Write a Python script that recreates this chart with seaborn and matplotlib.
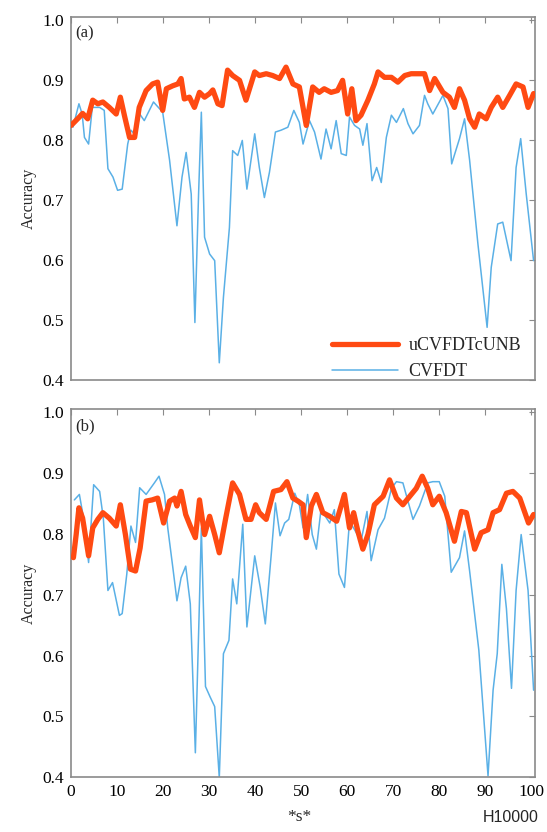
import numpy as np
import pandas as pd
import matplotlib
matplotlib.use('Agg')
import matplotlib.pyplot as plt
import seaborn as sns

# (a) uCVFDTcUNB
a_red_x = [0, 1.8, 2.5, 3.6, 4.7, 5.8, 6.9, 8.3, 9.8, 10.7, 11.6, 12.7, 13.8, 14.8, 16.3, 17.7, 18.8,
           19.9, 20.7, 22.1, 23.2, 23.9, 24.6, 25.7, 26.8, 27.9, 29.0, 30.1, 30.8, 31.9, 32.8, 34.0,
           35.1, 36.6, 38.0, 39.9, 40.9, 42.4, 43.8, 45.3, 46.7, 48.2, 49.6, 51.1, 52.5, 53.9, 55.0,
           56.5, 57.9, 59.0, 60.1, 61.0, 61.9, 63.0, 64.5, 65.9, 66.7, 68.1, 69.6, 71.0, 72.5, 73.9,
           75.4, 76.8, 77.9, 79.0, 80.8, 82.2, 83.3, 84.4, 85.5, 86.6, 87.7, 88.7, 90.2, 91.3, 92.7,
           93.8, 95.3, 96.7, 98.2, 99.3, 100.5]
a_red_y = [0.824, 0.838, 0.844, 0.835, 0.866, 0.860, 0.863, 0.854, 0.843, 0.871, 0.840, 0.804, 0.804,
           0.854, 0.882, 0.893, 0.896, 0.849, 0.885, 0.890, 0.893, 0.902, 0.868, 0.871, 0.854, 0.879,
           0.871, 0.877, 0.883, 0.860, 0.857, 0.916, 0.907, 0.899, 0.866, 0.913, 0.907, 0.910, 0.907,
           0.902, 0.921, 0.893, 0.888, 0.824, 0.888, 0.879, 0.885, 0.879, 0.882, 0.899, 0.843, 0.885,
           0.832, 0.841, 0.866, 0.893, 0.913, 0.904, 0.904, 0.896, 0.907, 0.910, 0.910, 0.910, 0.882,
           0.902, 0.879, 0.871, 0.854, 0.885, 0.866, 0.835, 0.821, 0.843, 0.835, 0.854, 0.871, 0.854,
           0.874, 0.893, 0.888, 0.854, 0.877]

# (a) CVFDT
a_blue_x = [0.4, 1.7, 2.4, 2.9, 3.8, 4.6, 6.2, 7.2, 8.0, 9.1, 10.1, 11.1, 12.3, 13.0, 14.1, 14.9, 15.9,
            17.9, 19.9, 21.4, 23.0, 24.1, 25.0, 26.1, 26.9, 27.7, 28.3, 29.0, 30.1, 31.2, 32.2, 33.1,
            34.4, 35.1, 36.2, 37.2, 38.2, 39.9, 40.9, 42.0, 43.1, 44.4, 45.6, 47.1, 48.4, 49.6, 50.4,
            51.8, 52.9, 54.3, 55.4, 56.5, 57.6, 58.7, 59.8, 60.5, 61.6, 62.7, 63.4, 64.3, 65.4, 66.4,
            67.4, 68.5, 69.6, 70.7, 72.2, 73.2, 74.3, 75.7, 76.8, 77.5, 78.6, 80.8, 81.9, 82.7, 84.4,
            85.5, 86.6, 88.4, 90.4, 91.3, 92.7, 93.8, 95.6, 96.7, 97.7, 98.9, 100.5]
a_blue_y = [0.821, 0.860, 0.843, 0.804, 0.793, 0.854, 0.854, 0.849, 0.752, 0.738, 0.716, 0.718, 0.793,
            0.816, 0.807, 0.843, 0.832, 0.863, 0.846, 0.766, 0.657, 0.738, 0.779, 0.710, 0.496, 0.710,
            0.846, 0.638, 0.610, 0.599, 0.429, 0.538, 0.654, 0.782, 0.774, 0.799, 0.718, 0.810, 0.754,
            0.704, 0.746, 0.813, 0.816, 0.821, 0.849, 0.829, 0.793, 0.832, 0.813, 0.768, 0.818, 0.785,
            0.832, 0.777, 0.774, 0.838, 0.824, 0.818, 0.791, 0.827, 0.732, 0.754, 0.729, 0.804, 0.841,
            0.829, 0.852, 0.827, 0.810, 0.824, 0.874, 0.860, 0.843, 0.874, 0.852, 0.760, 0.802, 0.835,
            0.766, 0.627, 0.488, 0.588, 0.660, 0.663, 0.599, 0.754, 0.802, 0.710, 0.599]

# (b) uCVFDTcUNB
b_red_x = [0.5, 1.1, 1.7, 2.5, 3.8, 4.7, 5.8, 6.9, 8.3, 9.8, 10.7, 11.8, 12.9, 14.0, 15.0, 16.3, 17.6,
           18.8, 20.1, 21.4, 22.5, 23.0, 23.9, 24.9, 25.9, 27.0, 27.9, 29.0, 30.1, 31.2, 32.2, 33.6,
           35.1, 36.6, 38.0, 39.1, 40.1, 40.9, 42.4, 44.0, 45.6, 46.9, 48.2, 49.3, 50.4, 51.1, 52.2,
           53.3, 54.7, 56.2, 57.7, 59.4, 60.5, 61.4, 62.3, 63.4, 64.5, 65.9, 67.8, 69.2, 70.7, 72.1,
           73.6, 75.0, 76.3, 77.5, 78.6, 80.0, 81.5, 83.3, 84.8, 85.9, 87.7, 89.1, 90.6, 91.7, 93.1,
           94.6, 96.0, 97.5, 99.4, 100.5]
b_red_y = [0.761, 0.799, 0.843, 0.826, 0.764, 0.810, 0.824, 0.835, 0.826, 0.813, 0.848, 0.799, 0.742,
           0.739, 0.777, 0.854, 0.856, 0.859, 0.818, 0.854, 0.859, 0.846, 0.870, 0.832, 0.813, 0.794,
           0.856, 0.799, 0.829, 0.799, 0.769, 0.826, 0.884, 0.865, 0.824, 0.824, 0.848, 0.835, 0.824,
           0.870, 0.873, 0.886, 0.859, 0.854, 0.848, 0.794, 0.846, 0.865, 0.835, 0.829, 0.821, 0.865,
           0.810, 0.835, 0.805, 0.775, 0.799, 0.848, 0.862, 0.889, 0.859, 0.848, 0.862, 0.875, 0.895,
           0.875, 0.848, 0.862, 0.835, 0.788, 0.837, 0.835, 0.775, 0.802, 0.807, 0.835, 0.840, 0.867,
           0.870, 0.859, 0.818, 0.832]

# (b) CVFDT
b_blue_x = [0.7, 1.8, 2.7, 3.8, 4.9, 6.2, 7.0, 8.0, 9.0, 10.5, 11.1, 12.1, 13.0, 14.0, 14.9, 16.3, 18.1,
            19.1, 20.3, 21.0, 22.1, 23.0, 23.9, 24.9, 25.9, 27.0, 27.8, 28.3, 29.2, 30.2, 31.2, 32.2,
            33.1, 34.3, 35.1, 36.0, 37.3, 38.2, 39.9, 41.1, 42.2, 43.5, 44.4, 45.4, 46.4, 47.3, 48.6,
            49.6, 50.4, 51.4, 52.4, 53.3, 54.3, 56.2, 57.2, 58.2, 59.4, 60.5, 61.6, 63.0, 64.3, 65.2,
            66.7, 68.1, 69.6, 70.7, 72.1, 73.2, 74.3, 75.7, 77.5, 78.6, 80.0, 81.2, 82.6, 84.4, 85.5,
            86.6, 88.6, 90.6, 91.7, 92.6, 93.6, 94.6, 95.7, 96.7, 97.8, 99.3, 100.5]
b_blue_y = [0.856, 0.865, 0.826, 0.753, 0.881, 0.870, 0.826, 0.707, 0.720, 0.666, 0.669, 0.734, 0.813,
            0.786, 0.876, 0.865, 0.884, 0.895, 0.865, 0.810, 0.745, 0.690, 0.728, 0.747, 0.685, 0.440,
            0.663, 0.810, 0.549, 0.532, 0.516, 0.399, 0.603, 0.625, 0.726, 0.685, 0.816, 0.647, 0.764,
            0.712, 0.652, 0.767, 0.851, 0.797, 0.818, 0.824, 0.867, 0.848, 0.810, 0.865, 0.799, 0.775,
            0.840, 0.818, 0.840, 0.734, 0.712, 0.821, 0.807, 0.788, 0.837, 0.756, 0.807, 0.826, 0.875,
            0.886, 0.884, 0.854, 0.824, 0.846, 0.884, 0.886, 0.886, 0.862, 0.737, 0.761, 0.805, 0.739,
            0.609, 0.402, 0.543, 0.603, 0.750, 0.677, 0.546, 0.707, 0.799, 0.707, 0.543]

x_ticks = list(range(0, 101, 10))
y_ticks = [0.4, 0.5, 0.6, 0.7, 0.8, 0.9, 1.0]
red = '#ff4a12'
blue = '#5ab0e6'
edge = '#8a8a8a'

sns.set_style('white')
plt.rcParams['font.family'] = ['Liberation Serif', 'DejaVu Serif']

fig = plt.figure(figsize=(5.47, 8.32), dpi=100)
ax1 = fig.add_axes([0.130, 0.543, 0.848, 0.437])
ax2 = fig.add_axes([0.130, 0.066, 0.848, 0.442])

panels = [(ax1, '(a)', a_red_x, a_red_y, a_blue_x, a_blue_y),
          (ax2, '(b)', b_red_x, b_red_y, b_blue_x, b_blue_y)]

for ax, tag, rx, ry, bx, by in panels:
    sns.lineplot(x=bx, y=by, ax=ax, color=blue, lw=1.1, estimator=None, label='CVFDT', zorder=2)
    sns.lineplot(x=rx, y=ry, ax=ax, color=red, lw=3.8, estimator=None, label='uCVFDTcUNB', zorder=3)
    ax.set_xlim(0, 100.8)
    ax.set_ylim(0.4, 1.005)
    ax.set_xticks(x_ticks)
    ax.set_yticks(y_ticks)
    ax.set_yticklabels([f'{v:.1f}' for v in y_ticks])
    ax.tick_params(direction='in', length=4, width=0.8, color=edge, top=True, right=True,
                   labelsize=12.5, labelcolor='black', pad=5)
    for sp in ax.spines.values():
        sp.set_color(edge)
        sp.set_linewidth(1.2)
    ax.set_ylabel('Accuracy', fontsize=11.5, labelpad=4)
    ax.set_xlabel('')
    ax.text(0.008, 0.975, tag, transform=ax.transAxes, ha='left', va='top', fontsize=12)
    ax.get_legend().remove()

ax1.tick_params(labelbottom=False)
h, l = ax1.get_legend_handles_labels()
ax1.legend(h[::-1], l[::-1], loc='lower right', bbox_to_anchor=(1.005, -0.045), frameon=False,
           fontsize=13, handlelength=3.7, handletextpad=0.55, labelspacing=0.5)

fig.text(0.548, 0.009, '*s*', ha='center', va='bottom', fontsize=12.5)
fig.text(0.985, 0.009, 'H10000', ha='right', va='bottom', fontsize=11.5,
         family=['Liberation Sans', 'DejaVu Sans'])

fig.savefig('out.png', dpi=100)
